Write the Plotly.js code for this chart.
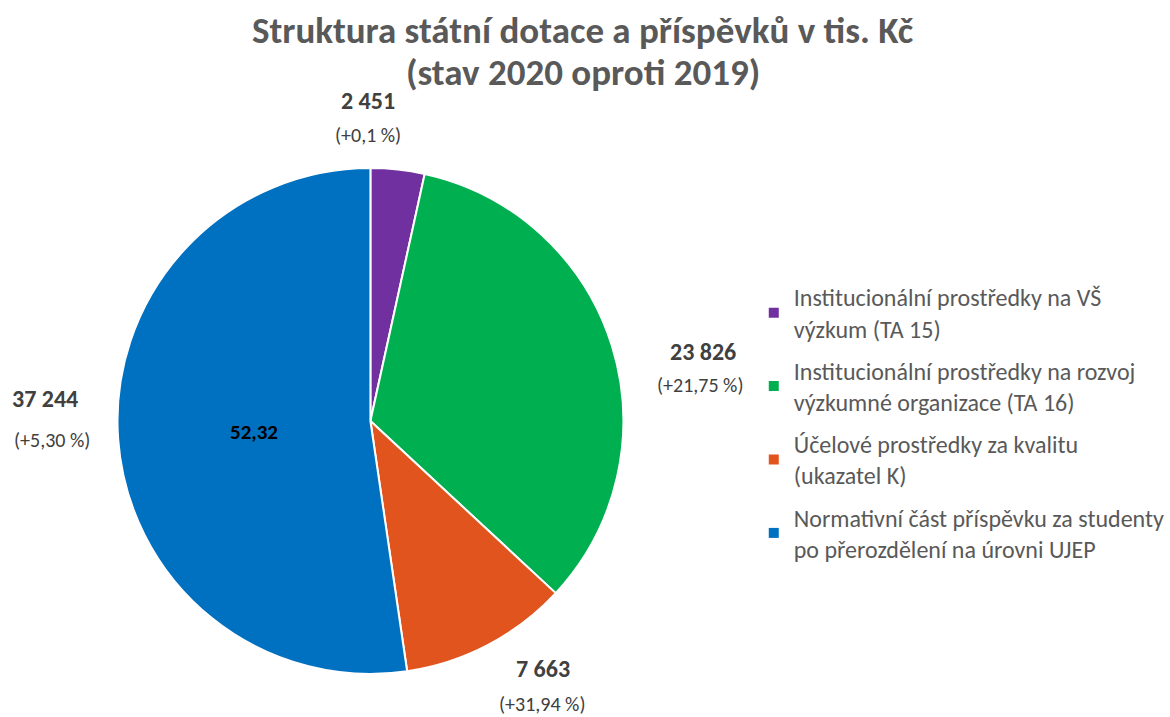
<!DOCTYPE html>
<html>
<head>
<meta charset="utf-8">
<script src="https://cdn.plot.ly/plotly-3.0.1.min.js"></script>
<style>html,body{margin:0;padding:0;background:#fff}#chart{width:1170px;height:717px}</style>
</head>
<body>
<div id="chart"></div>
<script>
const categories = [
  "Institucionální prostředky na VŠ<br>výzkum (TA 15)",
  "Institucionální prostředky na rozvoj<br>výzkumné organizace (TA 16)",
  "Účelové prostředky za kvalitu<br>(ukazatel K)",
  "Normativní část příspěvku za studenty<br>po přerozdělení na úrovni UJEP"
];
const values = [2451, 23826, 7663, 37244];
const changes = ["(+0,1 %)", "(+21,75 %)", "(+31,94 %)", "(+5,30 %)"];
const titleLines = ["Struktura státní dotace a příspěvků v tis. Kč", "(stav 2020 oproti 2019)"];
const colors = ["#7030A0", "#00B050", "#E1541E", "#0070C0"];

const FONT = "Calibri, Carlito, Lato, 'Open Sans', sans-serif";
const W = 1170, H = 717;
function px(x){ return x / W; }
function py(y){ return 1 - y / H; }
function fmt(v){ return String(v).replace(/\B(?=(\d{3})+(?!\d))/g, " "); }

// label anchor positions (pixels) for value / change labels
const labelPos = [
  {vx:370, vy:100, cx:370, cy:135},
  {vx:706, vy:352, cx:703, cy:385},
  {vx:545, vy:668, cx:544, cy:704},
  {vx:45,  vy:398, cx:52,  cy:440}
];

const total = values.reduce((a,b)=>a+b,0);
const annotations = [];
const titleY = [30, 72];
titleLines.forEach((t,i)=>{
  annotations.push({xref:'paper', yref:'paper', x:0.5, y:py(titleY[i]), xanchor:'center', yanchor:'middle',
    text:'<b>'+t+'</b>', showarrow:false, font:{family:FONT, size:37, color:'#595959'}});
});
values.forEach((v,i)=>{
  const p = labelPos[i];
  annotations.push({xref:'paper', yref:'paper', x:px(p.vx), y:py(p.vy), xanchor:'center', yanchor:'middle',
    text:'<b>'+fmt(v)+'</b>', showarrow:false, font:{family:FONT, size:24, color:'#404040'}});
  annotations.push({xref:'paper', yref:'paper', x:px(p.cx), y:py(p.cy), xanchor:'center', yanchor:'middle',
    text:changes[i], showarrow:false, font:{family:FONT, size:20, color:'#404040'}});
});
const share = (values[3] / total * 100).toFixed(2).replace('.', ',');
annotations.push({xref:'paper', yref:'paper', x:px(255), y:py(432), xanchor:'center', yanchor:'middle',
  text:'<b>'+share+'</b>', showarrow:false, font:{family:FONT, size:21, color:'#000000'}});

const cx = 372, cy = 421, r = 254;
const data = [{
  type:'pie',
  labels: categories,
  values: values,
  sort:false,
  direction:'clockwise',
  rotation:0,
  textinfo:'none',
  hoverinfo:'none',
  showlegend:false,
  marker:{colors:colors, line:{color:'#ffffff', width:2}},
  domain:{x:[px(cx-r), px(cx+r)], y:[py(cy+r), py(cy-r)]}
}];
// legend entries (one per category, each in its own group for spacing)
categories.forEach((c,i)=>{
  data.push({type:'scatter', mode:'markers', x:[null], y:[null], name:c, legendgroup:'g'+i,
    showlegend:true, hoverinfo:'none', marker:{symbol:'square', size:10, color:colors[i]}});
});

const layout = {
  width:W, height:H,
  margin:{l:0, r:0, t:0, b:0},
  paper_bgcolor:'#ffffff',
  plot_bgcolor:'rgba(0,0,0,0)',
  xaxis:{visible:false, showgrid:false, zeroline:false},
  yaxis:{visible:false, showgrid:false, zeroline:false},
  showlegend:true,
  legend:{x:px(757), y:py(275), xanchor:'left', yanchor:'top', font:{family:FONT, size:24, color:'#595959'},
    traceorder:'grouped', tracegroupgap:8,
    bgcolor:'rgba(0,0,0,0)', itemclick:false, itemdoubleclick:false},
  annotations: annotations
};

Plotly.newPlot('chart', data, layout, {displayModeBar:false, staticPlot:true});
</script>
</body>
</html>
